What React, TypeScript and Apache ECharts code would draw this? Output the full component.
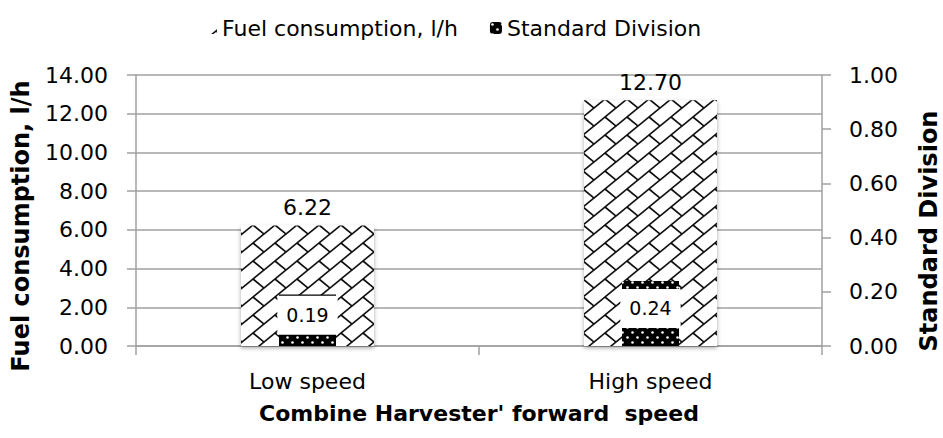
import React, { useEffect, useRef } from "react";
import * as echarts from "echarts";

const categories = ["Low speed", "High speed"];
const fuelConsumption = [6.22, 12.7];
const standardDivision = [0.19, 0.24];
const fuelName = "Fuel consumption, l/h";
const sdName = "Standard Division";
const xTitle = "Combine Harvester' forward  speed";

const FONT = "DejaVu Sans";
const GRID = "#a0a0a0";

function brickPattern() {
  const W = 22, H = 18;
  const c = document.createElement("canvas");
  c.width = W;
  c.height = H;
  const ctx = c.getContext("2d")!;
  ctx.fillStyle = "#fff";
  ctx.fillRect(0, 0, W, H);
  ctx.strokeStyle = "#111";
  ctx.lineWidth = 1.7;
  for (let n = -1; n <= 3; n++) {
    ctx.beginPath();
    ctx.moveTo(n * W + W, -H);
    ctx.lineTo(n * W - 2 * W, 2 * H);
    ctx.stroke();
  }
  for (let i = -1; i <= 0; i++) {
    for (let j = -1; j <= 0; j++) {
      ctx.beginPath();
      ctx.moveTo(W / 2 + i * W, H / 2 + j * H);
      ctx.lineTo(W + i * W, H + j * H);
      ctx.stroke();
    }
  }
  return { image: c, repeat: "repeat", imageWidth: W, imageHeight: H };
}

function dotPattern() {
  const W = 10, H = 10;
  const c = document.createElement("canvas");
  c.width = W;
  c.height = H;
  const ctx = c.getContext("2d")!;
  ctx.fillStyle = "#000";
  ctx.fillRect(0, 0, W, H);
  ctx.fillStyle = "#fff";
  for (const [x, y] of [[2.5, 2.5], [7.5, 7.5]]) {
    ctx.beginPath();
    ctx.arc(x, y, 1.3, 0, Math.PI * 2);
    ctx.fill();
  }
  return { image: c, repeat: "repeat", imageWidth: W, imageHeight: H };
}

export default function App() {
  const ref = useRef<HTMLDivElement>(null);
  useEffect(() => {
    if (!ref.current) return;
    const chart = echarts.init(ref.current, null, { renderer: "svg" });
    const fmt = (v: number) => v.toFixed(2);
    const titleStyle = { fontSize: 24, fontWeight: "bold", fill: "#000", fontFamily: FONT, align: "center", verticalAlign: "middle" };
    const option: any = {
      animation: false,
      textStyle: { fontFamily: FONT },
      legend: {
        left: 200,
        top: 12,
        itemGap: 32,
        itemWidth: 12,
        itemHeight: 12,
        textStyle: { fontSize: 22, color: "#000", fontFamily: FONT },
        data: [fuelName, sdName],
      },
      grid: { left: 136, right: 121, top: 75, bottom: 92 },
      graphic: [
        { type: "text", x: 21, y: 226, rotation: Math.PI / 2, style: { ...titleStyle, text: fuelName } },
        { type: "text", x: 929, y: 231, rotation: Math.PI / 2, style: { ...titleStyle, text: sdName } },
      ],
      xAxis: [
        {
          type: "category",
          data: categories,
          axisLine: { lineStyle: { color: GRID, width: 1.5 } },
          axisTick: { show: true, length: 9, alignWithLabel: false, lineStyle: { color: GRID, width: 1.5 } },
          axisLabel: { fontSize: 22, color: "#000", margin: 24, fontFamily: FONT },
          name: xTitle,
          nameLocation: "middle",
          nameGap: 56,
          nameTextStyle: { fontSize: 22, fontWeight: "bold", color: "#000", fontFamily: FONT },
        },
        { type: "category", data: categories, show: false },
      ],
      yAxis: [
        {
          type: "value",
          min: 0,
          max: 14,
          interval: 2,
          axisLine: { show: true, lineStyle: { color: GRID, width: 1.5 } },
          axisTick: { show: true, length: 9, lineStyle: { color: GRID, width: 1.5 } },
          splitLine: { show: true, lineStyle: { color: GRID, width: 1.5 } },
          axisLabel: { formatter: fmt, fontSize: 22, color: "#000", margin: 28, fontFamily: FONT },
        },
        {
          type: "value",
          min: 0,
          max: 1,
          interval: 0.2,
          position: "right",
          axisLine: { show: true, lineStyle: { color: GRID, width: 1.5 } },
          axisTick: { show: true, length: 9, lineStyle: { color: GRID, width: 1.5 } },
          splitLine: { show: false },
          axisLabel: { formatter: fmt, fontSize: 22, color: "#000", margin: 27, fontFamily: FONT },
        },
      ],
      series: [
        {
          name: fuelName,
          type: "bar",
          xAxisIndex: 0,
          yAxisIndex: 0,
          data: fuelConsumption,
          barWidth: 133,
          itemStyle: {
            color: brickPattern(),
            shadowColor: "rgba(0,0,0,0.35)",
            shadowBlur: 4,
            shadowOffsetY: 2,
          },
          label: {
            show: true,
            position: "top",
            distance: 7,
            formatter: (p: any) => fmt(p.value),
            fontSize: 22,
            color: "#000",
            fontFamily: FONT,
          },
        },
        {
          name: sdName,
          type: "bar",
          xAxisIndex: 1,
          yAxisIndex: 1,
          data: standardDivision,
          barWidth: 57,
          itemStyle: { color: dotPattern() },
          label: {
            show: true,
            position: "inside",
            offset: [0, -5],
            formatter: (p: any) => fmt(p.value),
            fontSize: 19,
            color: "#000",
            fontFamily: FONT,
            backgroundColor: "#fff",
            padding: [10, 9],
          },
        },
      ],
    };
    chart.setOption(option);
    return () => chart.dispose();
  }, []);
  return (
    <div
      ref={ref}
      style={{ position: "fixed", left: 0, top: 0, width: 943, height: 438, background: "#fff" }}
    />
  );
}
